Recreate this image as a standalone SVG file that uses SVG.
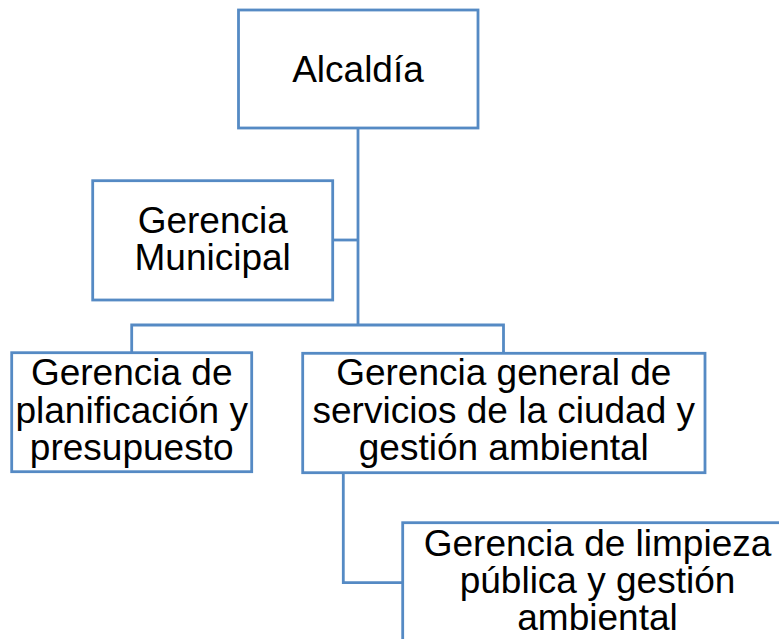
<svg xmlns="http://www.w3.org/2000/svg" width="779" height="639" viewBox="0 0 779 639">
<style>
.box{fill:#fff;stroke:#558ac4;stroke-width:2.8}
.conn{fill:none;stroke:#558ac4;stroke-width:2.8}
text{font-family:"Liberation Sans",Arial,sans-serif;font-size:37px;fill:#000;text-anchor:middle}
</style>
<rect width="779" height="639" fill="#fff"/>
<g id="connectors">
<path class="conn" d="M358 128V325"/>
<path class="conn" d="M332.7 240H358"/>
<path class="conn" d="M131.7 352.7V325H503.5V353.3"/>
<path class="conn" d="M343.3 472.7V582.7H402.7"/>
</g>
<g id="alcaldia">
<rect class="box" x="238.5" y="10" width="239.5" height="118"/>
<text x="358" y="81.5">Alcaldía</text>
</g>
<g id="gerencia-municipal">
<rect class="box" x="92.7" y="180.7" width="240" height="119.3"/>
<text x="212.7" y="233">Gerencia</text>
<text x="212.7" y="270">Municipal</text>
</g>
<g id="gerencia-planificacion">
<rect class="box" x="11.7" y="352.7" width="240" height="119"/>
<text x="131.7" y="385">Gerencia de</text>
<text x="131.7" y="422.5">planificación y</text>
<text x="131.7" y="460">presupuesto</text>
</g>
<g id="gerencia-servicios">
<rect class="box" x="302.7" y="353.3" width="402.3" height="119.4"/>
<text x="503.8" y="385">Gerencia general de</text>
<text x="503.8" y="422.5">servicios de la ciudad y</text>
<text x="503.8" y="460">gestión ambiental</text>
</g>
<g id="gerencia-limpieza">
<rect class="box" x="402.7" y="522.7" width="390" height="140"/>
<text x="597.5" y="556">Gerencia de limpieza</text>
<text x="597.5" y="593">pública y gestión</text>
<text x="597.5" y="630">ambiental</text>
</g>
</svg>
